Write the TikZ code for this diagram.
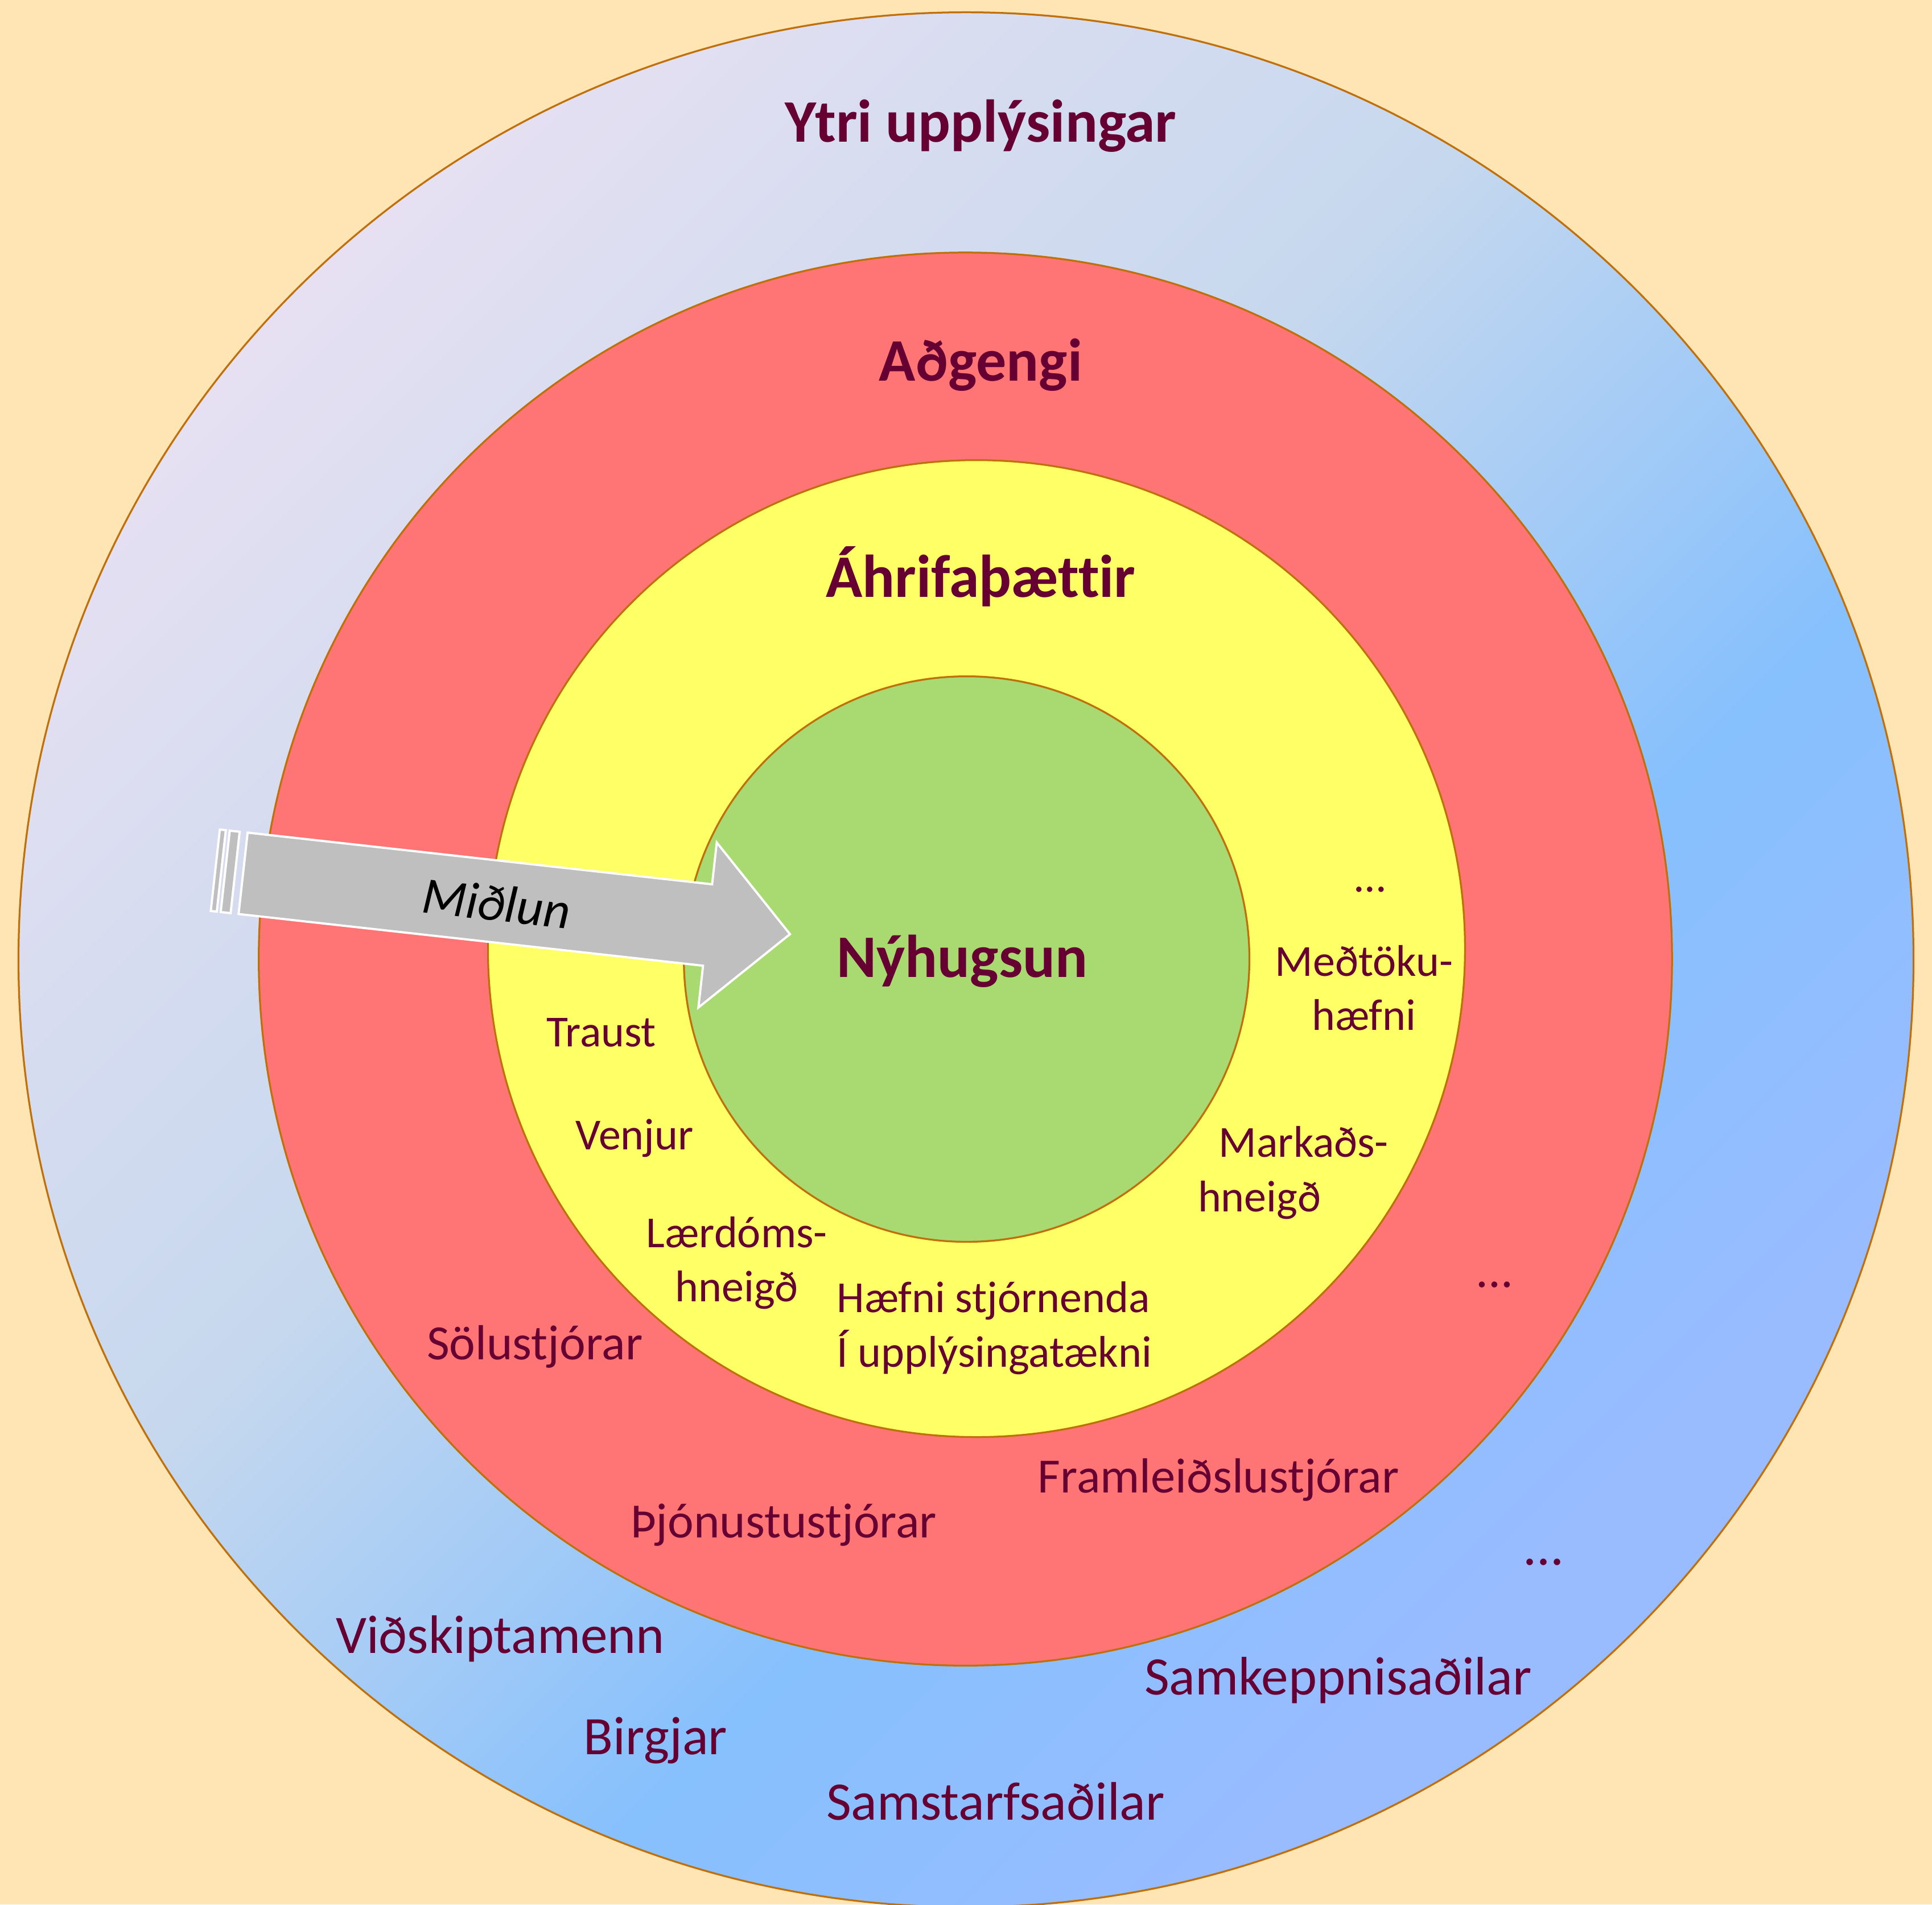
\documentclass[tikz,border=0pt]{standalone}
\usepackage{fontspec}
\setmainfont{Carlito}[Ligatures=CommonOff]
\definecolor{bgc}{HTML}{FFE5B4}
\definecolor{txt}{HTML}{660033}
\definecolor{rim}{HTML}{C0700A}
\definecolor{redc}{HTML}{FF7575}
\definecolor{yelc}{HTML}{FFFF66}
\definecolor{grnc}{HTML}{A9D971}
\definecolor{arrg}{HTML}{BFBFBF}
\definecolor{lav}{HTML}{E6E0F2}
\definecolor{midb}{HTML}{C6D8EE}
\definecolor{blu}{HTML}{86C0FD}
\definecolor{blu2}{HTML}{98BCFF}
\pgfdeclarehorizontalshading{outerbg}{100bp}{color(0bp)=(lav); color(25bp)=(lav); color(44bp)=(midb); color(60bp)=(blu); color(72bp)=(blu2); color(100bp)=(blu2)}
\begin{document}
\begin{tikzpicture}[x=1pt,y=1pt,
  ring/.style={circle, inner sep=0pt, draw=rim, line width=1.5pt},
  head/.style={inner sep=0pt, text=txt, font=\bfseries\fontsize{49}{58}\selectfont},
  ytxt/.style={inner sep=0pt, text=txt, font=\fontsize{36}{44}\selectfont},
  rtxt/.style={inner sep=0pt, text=txt, font=\fontsize{40}{48}\selectfont},
  btxt/.style={inner sep=0pt, text=txt, font=\fontsize{44}{52}\selectfont},
  arrpart/.style={fill=arrg, draw=white, line width=1.8pt, line join=miter}]
\fill[bgc] (0,0) rectangle (1568,1546);
\useasboundingbox (0,0) rectangle (1568,1546);
% rings
\node[ring, minimum size=1538pt, shading=outerbg, shading angle=-45] (outer) at (784,767) {};
\node[ring, minimum size=1147pt, fill=redc] (redring) at (783.5,767.5) {};
\node[ring, minimum size=793pt, fill=yelc] (yelring) at (792.5,776) {};
\node[ring, minimum size=459pt, fill=grnc] (core) at (784.5,767.5) {};
% headings
\node[head] (ytri) at (796,1444) {Ytri upplýsingar};
\node[head] (adg) at (796,1250) {Aðgengi};
\node[head] (ahr) at (796,1078) {Áhrifaþættir};
\node[head] (nyh) at (781,766) {Nýhugsun};
% arrow
\begin{scope}[shift={(197.3,837.1)}, rotate=-6.35]
  \path[arrpart] (-22.7,-33.25) rectangle (-17.8,33.25);
  \path[arrpart] (-14.6,-33.25) rectangle (-6.5,33.25);
  \path[arrpart] (0,33.25) -- (379.3,33.25) -- (379.3,67.4) -- (446.6,0) -- (379.3,-67.4) -- (379.3,-33.25) -- (0,-33.25) -- cycle;
\end{scope}
\node[inner sep=0pt, rotate=-6.3, font=\itshape\fontsize{42}{50}\selectfont] (midlun) at (403,813) {Miðlun};
% yellow ring texts
\node[ytxt] (dots1) at (1112,824) {...};
\node[ytxt, align=center] (medt) at (1107,744) {Meðtöku-\\hæfni};
\node[ytxt] (traust) at (488,708) {Traust};
\node[ytxt] (venjur) at (515,622) {Venjur};
\node[ytxt, align=center] (laerd) at (598,521) {Lærdóms-\\hneigð};
\node[ytxt, align=left, anchor=west] (mark) at (972,594) {\hspace*{17pt}Markaðs-\\hneigð};
\node[ytxt, align=left, anchor=west] (haefni) at (679,468) {Hæfni stjórnenda\\Í upplýsingatækni};
% red ring texts
\node[rtxt] (dots2) at (1213,503) {...};
\node[rtxt] (solu) at (434,453) {Sölustjórar};
\node[rtxt] (thjon) at (636,308) {Þjónustustjórar};
\node[rtxt] (fram) at (989,345) {Framleiðslustjórar};
% outer ring texts
\node[btxt] (dots3) at (1253,278) {...};
\node[btxt] (vidsk) at (406,216) {Viðskiptamenn};
\node[btxt] (birg) at (532,133) {Birgjar};
\node[btxt] (samst) at (808,84) {Samstarfsaðilar};
\node[btxt] (samk) at (1086,182) {Samkeppnisaðilar};
\end{tikzpicture}
\end{document}
